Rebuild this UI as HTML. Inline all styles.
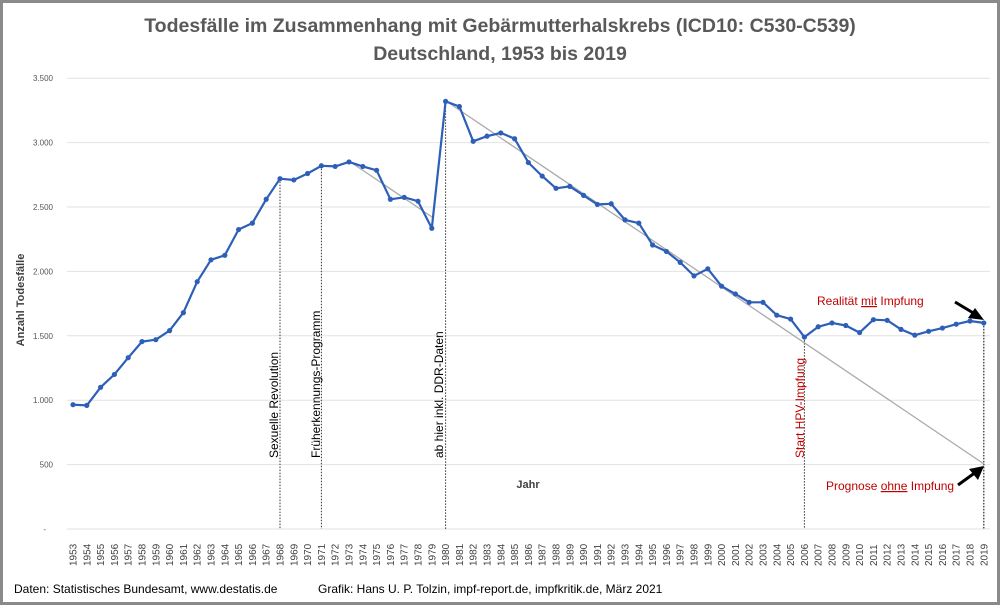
<!DOCTYPE html>
<html><head><meta charset="utf-8"><style>
body{margin:0;background:#fff}
svg{display:block;font-family:"Liberation Sans",sans-serif}
</style></head><body>
<svg id="s" width="1000" height="607" xmlns="http://www.w3.org/2000/svg">
<rect x="1.5" y="1.5" width="997" height="602" fill="#fff" stroke="#8a8a8a" stroke-width="3"/>
<text x="500" y="32" text-anchor="middle" font-size="19.5" font-weight="bold" fill="#595959">Todesfälle im Zusammenhang mit Gebärmutterhalskrebs (ICD10: C530-C539)</text>
<text x="500" y="60" text-anchor="middle" font-size="19.5" font-weight="bold" fill="#595959">Deutschland, 1953 bis 2019</text>
<g id="grid"></g>
<text transform="translate(24,300) rotate(-90)" text-anchor="middle" font-size="11" font-weight="bold" fill="#404040">Anzahl  Todesfälle</text>
<text x="528" y="488" text-anchor="middle" font-size="11" font-weight="bold" fill="#404040">Jahr</text>
<g id="vl" stroke="#333" stroke-width="1" stroke-dasharray="1.5,1.5"></g>
<line x1="349" y1="161" x2="432" y2="217" stroke="#aaa" stroke-width="1.3"/>
<line x1="446" y1="101" x2="984" y2="464" stroke="#aaa" stroke-width="1.3"/>
<g id="ser"></g>
<g font-size="12" fill="#000">
<text transform="translate(278,458) rotate(-90)">Sexuelle Revolution</text>
<text transform="translate(320,458) rotate(-90)">Früherkennungs-Programm</text>
<text transform="translate(443,458) rotate(-90)">ab hier inkl. DDR-Daten</text>
</g>
<text transform="translate(804,458) rotate(-90)" font-size="12" fill="#c00000">Start HPV-Impfung</text>
<text x="817" y="305" font-size="12" fill="#c00000">Realität <tspan text-decoration="underline">mit</tspan> Impfung</text>
<text x="826" y="490" font-size="12" fill="#c00000">Prognose <tspan text-decoration="underline">ohne</tspan> Impfung</text>
<line x1="955" y1="302" x2="975" y2="314" stroke="#000" stroke-width="3"/>
<polygon points="984,320 968,318 975,308" fill="#000"/>
<line x1="958" y1="485" x2="976" y2="472" stroke="#000" stroke-width="3"/>
<polygon points="984,466 978,480 969,469" fill="#000"/>
<text x="14" y="593" font-size="12" fill="#000">Daten: Statistisches Bundesamt, www.destatis.de</text>
<text x="318" y="593" font-size="12" fill="#000">Grafik: Hans U. P. Tolzin, impf-report.de, impfkritik.de, März 2021</text>
<g id="xl" font-size="10" fill="#404040"></g>
</svg>
<script>
var NS="http://www.w3.org/2000/svg";
function el(p,t,a,txt){var e=document.createElementNS(NS,t);for(var k in a)e.setAttribute(k,a[k]);if(txt!=null)e.textContent=txt;document.getElementById(p).appendChild(e);return e;}
var d=[965,960,1100,1200,1330,1455,1470,1540,1680,1920,2090,2125,2325,2375,2560,2720,2710,2760,2820,2815,2850,2815,2785,2560,2575,2545,2335,3320,3280,3010,3050,3075,3030,2845,2740,2645,2660,2590,2520,2525,2400,2375,2205,2155,2070,1965,2020,1885,1825,1760,1760,1660,1630,1490,1570,1600,1580,1525,1625,1620,1550,1505,1535,1560,1590,1615,1600];
function X(i){return 73+i*13.8;} function Y(v){return 529-v/500*64.4;}
var labs=["-","500","1.000","1.500","2.000","2.500","3.000","3.500"];
for(var j=0;j<8;j++){var y=Y(j*500);el("grid","line",{x1:67,x2:990,y1:y,y2:y,stroke:"#e2e2e2","stroke-width":1});
el("grid","text",{x:j==0?46:53,y:y+3,"text-anchor":"end","font-size":"8",fill:"#555"},labs[j]);}
for(var i=0;i<d.length;i++){el("xl","text",{transform:"translate("+(X(i)+3.5)+",566) rotate(-90)"},1953+i);}
[[15,2720],[18,2820],[27,3320],[53,1490],[66,1600]].forEach(function(a){var x=X(a[0]);el("vl","line",{x1:x,x2:x,y1:Y(a[1]),y2:529});});
el("vl","line",{x1:X(66),x2:X(66),y1:Y(1600),y2:529});
var p="";for(var i=0;i<d.length;i++)p+=(i?"L":"M")+X(i).toFixed(1)+","+Y(d[i]).toFixed(1);
el("ser","path",{d:p,fill:"none",stroke:"#2e5fb8","stroke-width":2.2,"stroke-linejoin":"round"});
for(var i=0;i<d.length;i++)el("ser","circle",{cx:X(i),cy:Y(d[i]),r:2.6,fill:"#2e5fb8"});
</script>
</body></html>
